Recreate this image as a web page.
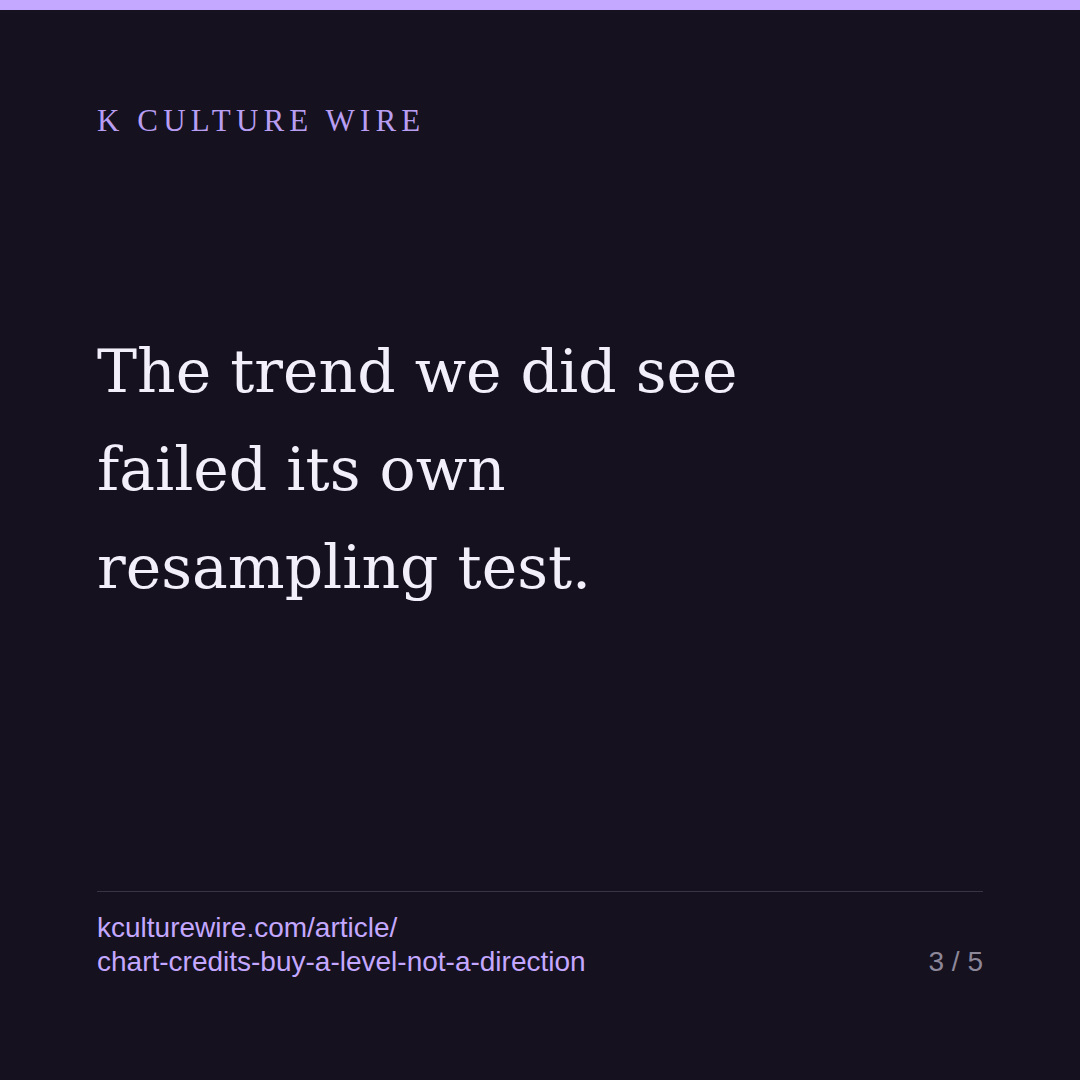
<!DOCTYPE html>
<html>
<head>
<meta charset="utf-8">
<script src="https://cdn.jsdelivr.net/npm/chart.js@4"></script>
<style>
  html,body{margin:0;padding:0;}
  body{width:1080px;height:1080px;background:#15111f;position:relative;overflow:hidden;}
  .bar{position:absolute;left:0;top:0;width:1080px;height:10px;background:#c4a8ff;}
  .brand{position:absolute;left:97px;top:103px;font-family:'Liberation Serif','DejaVu Serif',serif;font-size:31px;letter-spacing:0.165em;color:#b89ef2;}
  .head{position:absolute;left:97px;top:322px;font-family:'DejaVu Serif','Liberation Serif',serif;font-size:60px;line-height:98px;color:#f3effa;}
  .rule{position:absolute;left:97px;top:891px;width:886px;height:1px;background:#393347;}
  .url{position:absolute;left:97px;top:911px;font-family:'Liberation Sans',Arial,sans-serif;font-size:28px;line-height:34px;color:#c4a8ff;}
  .page{position:absolute;right:97px;top:945px;font-family:'Liberation Sans',Arial,sans-serif;font-size:28px;line-height:34px;color:#8c8799;}
</style>
</head>
<body>
<div class="bar"></div>
<div class="brand" id="brand"></div>
<div class="head" id="head"></div>
<div class="rule"></div>
<div class="url" id="url"></div>
<div class="page" id="page"></div>
<script>
// testi della slide
const brand = 'K CULTURE WIRE';
const headline = ['The trend we did see', 'failed its own', 'resampling test.'];
const urlLines = ['kculturewire.com/article/', 'chart-credits-buy-a-level-not-a-direction'];
const pageNo = 3, pageTot = 5;

document.getElementById('brand').textContent = brand;
document.getElementById('head').innerHTML = headline.join('<br>');
document.getElementById('url').innerHTML = urlLines.join('<br>');
document.getElementById('page').textContent = `${pageNo} / ${pageTot}`;
</script>
</body>
</html>
